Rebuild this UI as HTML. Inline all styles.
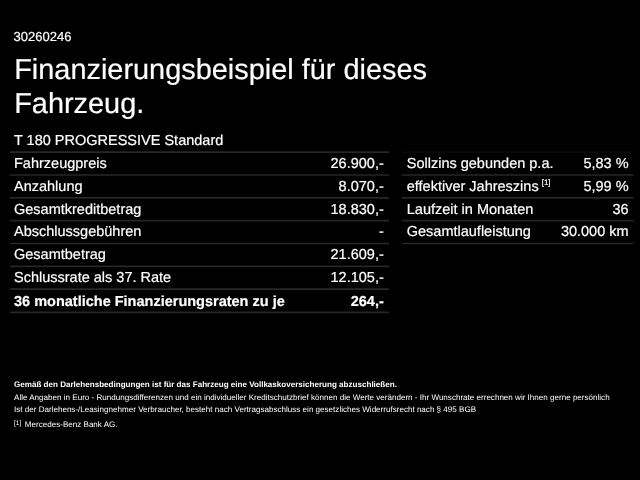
<!DOCTYPE html>
<html lang="de"><head><meta charset="utf-8"><title>Finanzierungsbeispiel</title>
<style>
html,body{margin:0;padding:0;background:#000;}
body{text-rendering:geometricPrecision;-webkit-text-stroke:0.2px #fff;width:640px;height:480px;overflow:hidden;position:relative;color:#fff;font-family:"Liberation Sans",Arial,sans-serif;}
.abs{position:absolute;white-space:nowrap;}
#id{left:13.6px;top:30px;font-size:13px;line-height:14px;}
#h1{left:14.2px;top:53px;font-size:28.9px;line-height:34px;font-weight:normal;margin:0;}
#sub{left:14px;top:133px;font-size:14.5px;line-height:17px;}
.tbl{position:absolute;}
.row{position:absolute;left:0;right:0;height:22px;border-top:1px solid transparent;font-size:14.5px;line-height:23px;}
.row .l{position:absolute;left:4px;top:0;white-space:nowrap;}
.row .r{position:absolute;right:4.25px;top:0;white-space:nowrap;}
.row.b{font-weight:bold;}
sup{font-size:8px;vertical-align:baseline;position:relative;top:-6px;line-height:1px;margin-left:0.8px;}
.ft{-webkit-text-stroke:0;font-size:8.07px;line-height:11px;left:14px;}
#t2 .l{left:4.75px}
#t2 .r{right:4.9px}
</style></head><body>
<div class="abs" id="id">30260246</div>
<h1 class="abs" id="h1">Finanzierungsbeispiel für dieses<br>Fahrzeug.</h1>
<div class="abs" id="sub">T 180 PROGRESSIVE Standard</div>
<svg class="abs" style="left:0;top:0" width="640" height="480" viewBox="0 0 640 480" stroke="#272727" stroke-width="1.7"><line x1="10" x2="389" y1="152.20" y2="152.20"/><line x1="10" x2="389" y1="175.02" y2="175.02"/><line x1="10" x2="389" y1="197.84" y2="197.84"/><line x1="10" x2="389" y1="220.66" y2="220.66"/><line x1="10" x2="389" y1="243.48" y2="243.48"/><line x1="10" x2="389" y1="266.30" y2="266.30"/><line x1="10" x2="389" y1="289.12" y2="289.12"/><line x1="10" x2="389" y1="312.30" y2="312.30"/><line x1="402" x2="633.5" y1="152.20" y2="152.20" stroke="#080808"/><line x1="402" x2="633.5" y1="175.02" y2="175.02"/><line x1="402" x2="633.5" y1="197.84" y2="197.84"/><line x1="402" x2="633.5" y1="220.66" y2="220.66"/><line x1="402" x2="633.5" y1="243.48" y2="243.48"/></svg>
<div class="tbl" id="t1" style="left:10px;top:0;width:378px;">
 <div class="row" style="top:152px"><span class="l">Fahrzeugpreis</span><span class="r">26.900,-</span></div>
 <div class="row" style="top:175px"><span class="l">Anzahlung</span><span class="r">8.070,-</span></div>
 <div class="row" style="top:198px"><span class="l">Gesamtkreditbetrag</span><span class="r">18.830,-</span></div>
 <div class="row" style="top:220px"><span class="l">Abschlussgebühren</span><span class="r">-</span></div>
 <div class="row" style="top:243px"><span class="l">Gesamtbetrag</span><span class="r">21.609,-</span></div>
 <div class="row" style="top:266px"><span class="l">Schlussrate als 37. Rate</span><span class="r">12.105,-</span></div>
 <div class="row b" style="top:290px"><span class="l">36 monatliche Finanzierungsraten zu je</span><span class="r">264,-</span></div>
</div>
<div class="tbl" id="t2" style="left:402px;top:0;width:231.5px;">
 <div class="row" style="top:152px"><span class="l">Sollzins gebunden p.a.</span><span class="r">5,83 %</span></div>
 <div class="row" style="top:175px"><span class="l">effektiver Jahreszins<sup> [1]</sup></span><span class="r">5,99 %</span></div>
 <div class="row" style="top:198px"><span class="l">Laufzeit in Monaten</span><span class="r">36</span></div>
 <div class="row" style="top:220px"><span class="l">Gesamtlaufleistung</span><span class="r">30.000 km</span></div>
</div>
<div class="abs ft" style="top:379px;font-weight:bold;">Gemäß den Darlehensbedingungen ist für das Fahrzeug eine Vollkaskoversicherung abzuschließen.</div>
<div class="abs ft" style="top:392px;">Alle Angaben in Euro - Rundungsdifferenzen und ein individueller Kreditschutzbrief können die Werte verändern - Ihr Wunschrate errechnen wir Ihnen gerne persönlich</div>
<div class="abs ft" style="top:404px;">Ist der Darlehens-/Leasingnehmer Verbraucher, besteht nach Vertragsabschluss ein gesetzliches Widerrufsrecht nach § 495 BGB</div>
<div class="abs ft" style="top:419px;"><span style="font-size:6.6px;position:absolute;left:0;top:-1px;">[1]</span><span style="padding-left:10.8px">Mercedes-Benz Bank AG.</span></div>
</body></html>
